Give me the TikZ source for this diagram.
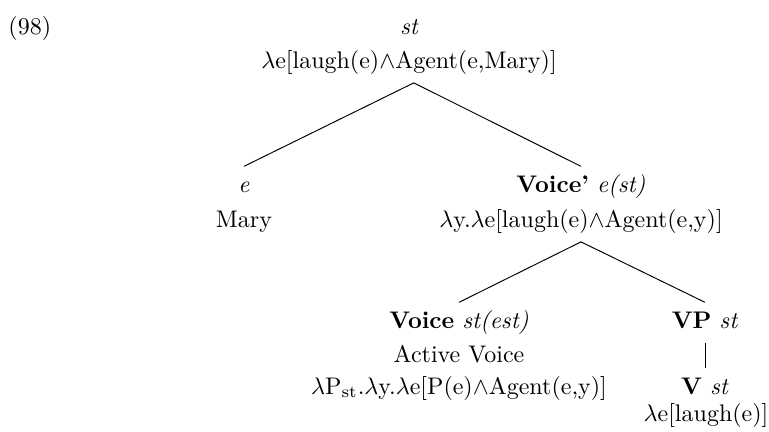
\documentclass[tikz,border=0pt]{standalone}
\begin{document}
\begin{tikzpicture}[
        x=0.4167pt, y=-0.4167pt,
        every node/.style={anchor=base, inner xsep=0pt, inner ysep=3pt, text height=7.5pt, text depth=3pt},
        ty/.style={font=\itshape},
    ]
    \useasboundingbox (0,0) rectangle (769,431);
    \node[anchor=base west](num) at (8,34){(98)};
    \node[ty](rootT) at (409,34){st};
    \node[](rootL) at (409,68){$\lambda$e[laugh(e)$\wedge$Agent(e,Mary)]};
    \node[ty](maryT) at (244,192){e};
    \node[](maryL) at (244,227){Mary};
    \node[](vbarT) at (581,192){\textbf{Voice'} \textit{e(st)}};
    \node[](vbarL) at (581,227){$\lambda$y.$\lambda$e[laugh(e)$\wedge$Agent(e,y)]};
    \node[](voiceT) at (459,328){\textbf{Voice} \textit{st(est)}};
    \node[](voiceN) at (459,362){Active Voice};
    \node[](voiceL) at (459,394){$\lambda$P$_{\mathrm{st}}$.$\lambda$y.$\lambda$e[P(e)$\wedge$Agent(e,y)]};
    \node[](vpT) at (705,328){\textbf{VP} \textit{st}};
    \node[](vT) at (705,394){\textbf{V} \textit{st}};
    \node[](vL) at (706,421){$\lambda$e[laugh(e)]};
    \draw ([xshift=2pt]rootL.south) -- (maryT.north);
    \draw ([xshift=2pt]rootL.south) -- (vbarT.north);
    \draw (vbarL.south) -- (voiceT.north);
    \draw (vbarL.south) -- (vpT.north);
    \draw (vpT.south) -- (vT.north);
\end{tikzpicture}
\end{document}
